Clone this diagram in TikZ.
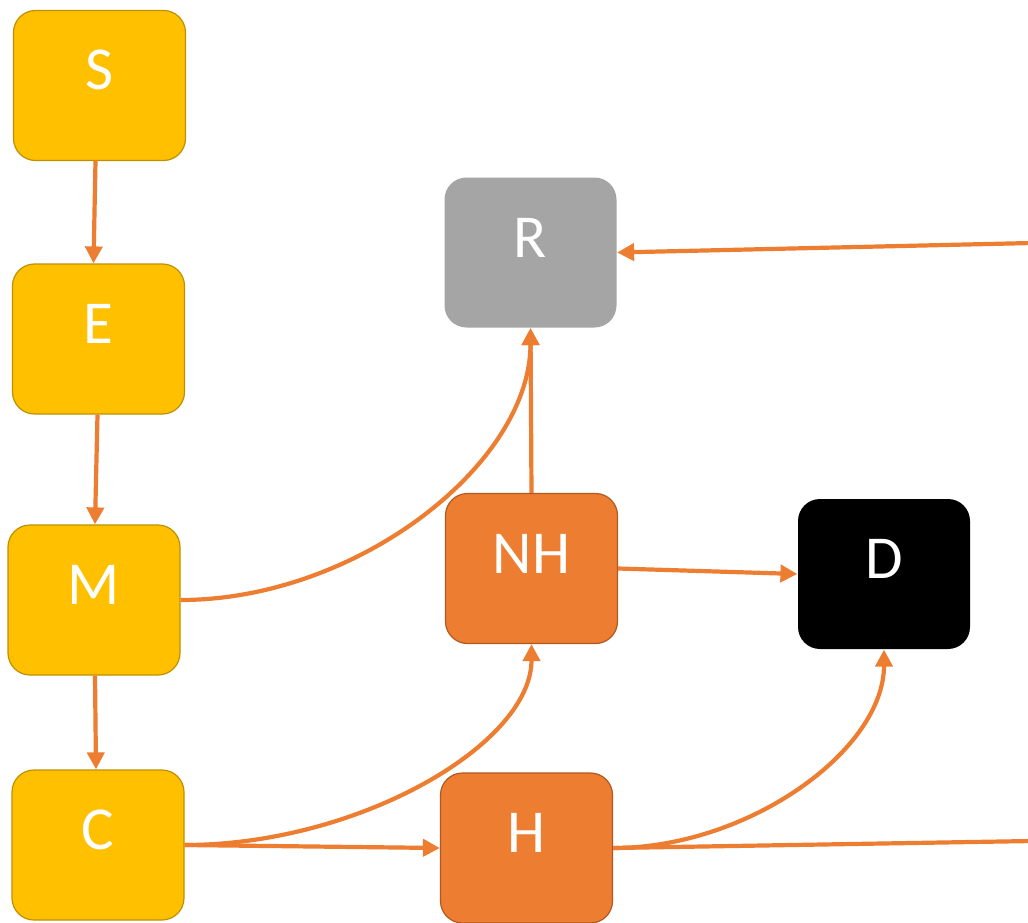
\documentclass[tikz,border=0pt]{standalone}
\usepackage{fontspec}
\setmainfont{Carlito}
\usetikzlibrary{arrows.meta}
\definecolor{goldfill}{HTML}{FFC000}
\definecolor{goldline}{HTML}{BF9000}
\definecolor{orfill}{HTML}{ED7D31}
\definecolor{orline}{HTML}{AE5A21}
\definecolor{greyfill}{HTML}{A5A5A5}
\definecolor{arrowc}{HTML}{ED7D31}
\begin{document}
\begin{tikzpicture}[x=1pt,y=-1pt,
  box/.style={rounded corners=22pt, minimum width=172pt, minimum height=150pt,
    inner sep=0pt, text=white, font=\fontsize{61}{72}\selectfont,
    text height=38pt, text depth=29pt, line width=1.2pt},
  gold/.style={box, fill=goldfill, draw=goldline},
  orng/.style={box, fill=orfill, draw=orline},
  grey/.style={box, fill=greyfill},
  blk/.style={box, fill=black},
  arr/.style={draw=arrowc, line width=4.2pt, -{Triangle[length=17pt,width=17pt]}},
  plain/.style={draw=arrowc, line width=4.2pt}]
\useasboundingbox[fill=white] (0,0) rectangle (1028,923);
\node[gold] (S) at (99.5,85.5) {S};
\node[gold] (E) at (98.5,339) {E};
\node[gold] (M) at (94,600) {M};
\node[gold] (C) at (98,845) {C};
\node[grey] (R) at (530.5,252.5) {R};
\node[orng] (NH) at (531.5,568.5) {NH};
\node[blk] (D) at (884,574) {D};
\node[orng] (H) at (526.5,848) {H};
\coordinate (rin) at (1032,243);
\coordinate (hout) at (1032,841);
\draw[arr] ([xshift=-4pt]S.south) -- ([xshift=-5pt]E.north);
\draw[arr] ([xshift=-1pt]E.south) -- ([xshift=1pt]M.north);
\draw[arr] ([xshift=1pt]M.south) -- ([xshift=-2pt]C.north);
\draw[arr] (C.east) -- (H.west);
\draw[arr] (C.east) .. controls +(174,0) and +(0,100) .. (NH.south);
\draw[arr] (M.east) .. controls +(176,0) and +(0,136) .. (R.south);
\draw[arr] (NH.north) -- (R.south);
\draw[arr] (NH.east) -- (D.west);
\draw[arr] (H.east) .. controls +(136,0) and +(0,100) .. (D.south);
\draw[plain] (H.east) -- (hout);
\draw[arr] (rin) -- (R.east);
\end{tikzpicture}
\end{document}
